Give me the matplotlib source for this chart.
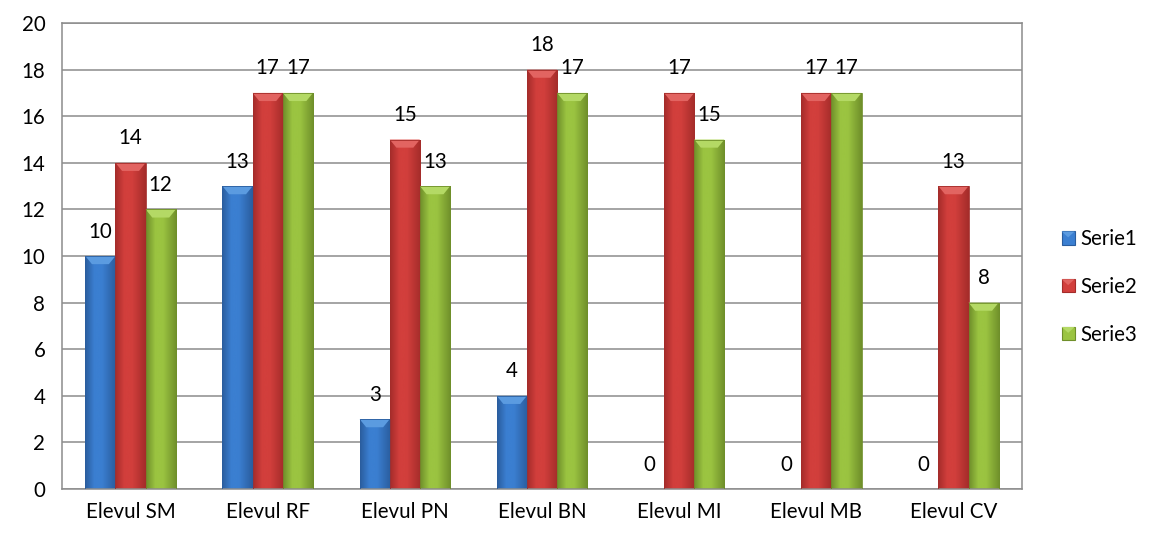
import numpy as np
import matplotlib
matplotlib.use("Agg")
import matplotlib.pyplot as plt
import matplotlib.patches as mpatches
from matplotlib.colors import LinearSegmentedColormap
from matplotlib.legend_handler import HandlerPatch

categories = ["Elevul SM", "Elevul RF", "Elevul PN", "Elevul BN", "Elevul MI", "Elevul MB", "Elevul CV"]
series_names = ["Serie1", "Serie2", "Serie3"]
serie1 = [10, 13, 3, 4, 0, 0, 0]
serie2 = [14, 17, 15, 18, 17, 17, 13]
serie3 = [12, 17, 13, 17, 15, 17, 8]
y_ticks = list(range(0, 21, 2))

# (dark edge, mid, highlight) per series
palette = [
    ("#2a5d9e", "#3b7fd1", "#5b9be0"),
    ("#a42c2a", "#d23f3c", "#e26461"),
    ("#6f8f2a", "#9bc441", "#b4d965"),
]

plt.rcParams["font.family"] = ["Lato", "DejaVu Sans"]
FS = 14.8

fig = plt.figure(figsize=(11.54, 5.36), dpi=100)
ax = fig.add_axes([62 / 1154, 1 - 489 / 536, 960 / 1154, 466 / 536])

bar_w = 0.22
x = np.arange(len(categories))
grad = np.linspace(0, 1, 64).reshape(1, -1)


def draw_bar(xc, h, cols):
    x0, x1 = xc - bar_w / 2, xc + bar_w / 2
    if h <= 0:
        return
    cmap = LinearSegmentedColormap.from_list(
        "g", [(0, cols[0]), (0.3, cols[1]), (0.55, cols[1]), (1, cols[0])])
    rect = mpatches.Rectangle((x0, 0), bar_w, h, facecolor="none", edgecolor="none")
    ax.add_patch(rect)
    im = ax.imshow(grad, cmap=cmap, extent=(x0, x1, 0, h), aspect="auto",
                   interpolation="bicubic", zorder=2)
    im.set_clip_path(rect)
    # bevelled top
    d = 0.35
    inset = bar_w * 0.22
    ax.add_patch(mpatches.Polygon(
        [(x0, h), (x1, h), (x1 - inset, h - d), (x0 + inset, h - d)],
        closed=True, facecolor=cols[2], edgecolor="none", zorder=3))
    ax.add_patch(mpatches.Rectangle((x0, 0), bar_w, h, facecolor="none",
                                    edgecolor=cols[0], linewidth=0.6, zorder=3))


for k, vals in enumerate([serie1, serie2, serie3]):
    offs = (k - 1) * bar_w
    for xi, v in zip(x, vals):
        draw_bar(xi + offs, v, palette[k])
        ax.text(xi + offs, v + 0.62, str(v), ha="center", va="bottom",
                fontsize=FS, color="black", zorder=4)

ax.set_xlim(-0.5, len(categories) - 0.5)
ax.set_ylim(0, 20)
ax.set_yticks(y_ticks)
ax.set_xticks(x)
ax.set_xticklabels(categories)
ax.tick_params(axis="both", length=0, labelsize=FS, colors="black")
ax.tick_params(axis="y", pad=12)
ax.tick_params(axis="x", pad=9)
ax.yaxis.grid(True, color="#8c8c8c", linewidth=1.1)
ax.set_axisbelow(True)
for s in ax.spines.values():
    s.set_color("#8c8c8c")
    s.set_linewidth(1.1)


class BevelHandler(HandlerPatch):
    def __init__(self, cols):
        super().__init__()
        self.cols = cols

    def create_artists(self, legend, orig_handle, xdescent, ydescent, width, height, fontsize, trans):
        s = height * 1.0
        x0 = -xdescent + (width - s) / 2
        y0 = -ydescent + (height - s) / 2
        base = mpatches.Rectangle((x0, y0), s, s, facecolor=self.cols[1],
                                  edgecolor=self.cols[0], linewidth=0.8, transform=trans)
        top = mpatches.Polygon([(x0, y0 + s), (x0 + s, y0 + s), (x0 + s * 0.5, y0 + s * 0.55)],
                               closed=True, facecolor=self.cols[2], edgecolor="none",
                               transform=trans)
        return [base, top]


handles = [mpatches.Patch(label=n) for n in series_names]
fig.legend(handles=handles, labels=series_names,
           handler_map={h: BevelHandler(c) for h, c in zip(handles, palette)},
           loc="center left", bbox_to_anchor=(1062 / 1154, 1 - 287 / 536),
           frameon=False, fontsize=FS, handlelength=0.6, handleheight=0.6,
           handletextpad=0.3, labelspacing=1.35, borderpad=0, borderaxespad=0)

fig.savefig("out.png", dpi=100)
